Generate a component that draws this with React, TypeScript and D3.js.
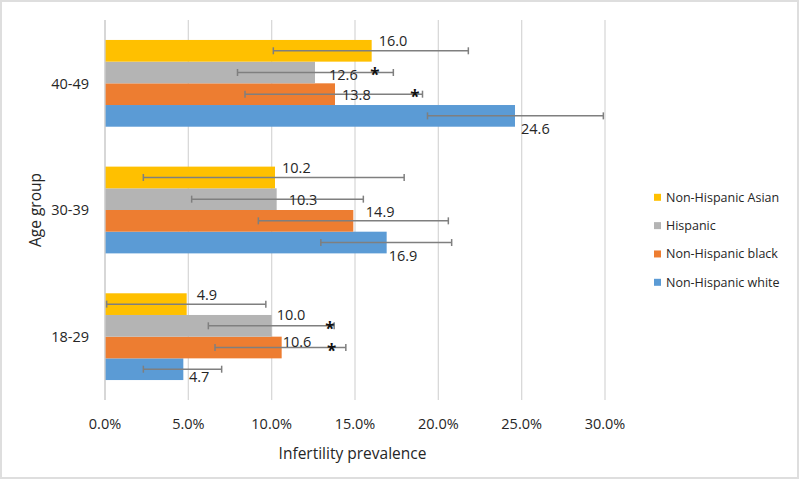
import React from "react";
import * as d3 from "d3";

const ageGroups = ["18-29", "30-39", "40-49"];
const seriesNames = ["Non-Hispanic white", "Non-Hispanic black", "Hispanic", "Non-Hispanic Asian"];
const seriesColors = ["#5B9BD5", "#ED7D31", "#B4B4B4", "#FFC000"];

const whiteValues = [4.7, 16.9, 24.6];
const whiteLower = [2.3, 12.95, 19.35];
const whiteUpper = [7.0, 20.8, 29.9];

const blackValues = [10.6, 14.9, 13.8];
const blackLower = [6.6, 9.2, 8.4];
const blackUpper = [14.45, 20.6, 19.05];

const hispanicValues = [10.0, 10.3, 12.6];
const hispanicLower = [6.2, 5.2, 7.95];
const hispanicUpper = [13.75, 15.5, 17.3];

const asianValues = [4.9, 10.2, 16.0];
const asianLower = [0.1, 2.3, 10.1];
const asianUpper = [9.65, 17.95, 21.8];

// significance markers: [series index, age group index, x value]
const asterisks: [number, number, number][] = [
  [2, 2, 16.2],
  [1, 2, 18.6],
  [2, 0, 13.5],
  [1, 0, 13.6],
];

const xTicks = [0, 5, 10, 15, 20, 25, 30];

// label placement offsets (px) per series, per age group
const labelDx = [
  [5.6, 2, 6],
  [1, 12.5, 7],
  [5, 12, 14],
  [10, 7, 7],
];
const labelDy = [
  [8, 13, 13],
  [-6, -9, 1],
  [-11, 1, 2],
  [-9, -10, -10],
];

const values = [whiteValues, blackValues, hispanicValues, asianValues];
const lowers = [whiteLower, blackLower, hispanicLower, asianLower];
const uppers = [whiteUpper, blackUpper, hispanicUpper, asianUpper];

const W = 800;
const H = 481;
const FONT = "'Open Sans', sans-serif";
const TEXT = "#262626";

export default function App() {
  const x = d3.scaleLinear().domain([0, 30]).range([105, 605]);
  const yGroup = d3
    .scaleBand<string>()
    .domain([...ageGroups].reverse())
    .range([20, 400])
    .padding(0);
  const ySeries = d3
    .scaleBand<string>()
    .domain([...seriesNames].reverse())
    .range([0, yGroup.bandwidth()])
    .paddingInner(0)
    .paddingOuter(0.92);
  const bw = ySeries.bandwidth();

  const legendOrder = [3, 2, 1, 0];
  const legendY = d3.scalePoint<number>().domain(legendOrder).range([197.3, 282.3]);

  return (
    <svg
      width={W}
      height={H}
      style={{ position: "absolute", left: 0, top: 0, background: "#fff" }}
      fontFamily={FONT}
    >
      <rect x={1} y={1} width={W - 3} height={H - 4} fill="#fff" stroke="#dedede" strokeWidth={2} />
      {/* gridlines */}
      {xTicks.map((t) => (
        <line key={t} x1={x(t)} x2={x(t)} y1={20} y2={400} stroke="#d9d9d9" strokeWidth={1.3} />
      ))}
      {/* bars */}
      {seriesNames.map((s, si) =>
        ageGroups.map((g, gi) => {
          const y0 = (yGroup(g) as number) + (ySeries(s) as number);
          return (
            <rect
              key={s + g}
              x={x(0)}
              y={y0}
              width={x(values[si][gi]) - x(0)}
              height={bw}
              fill={seriesColors[si]}
            />
          );
        })
      )}
      {/* axis line */}
      <line x1={x(0)} x2={x(0)} y1={20} y2={400} stroke="#d0d0d0" strokeWidth={1.3} />
      {/* error bars */}
      {seriesNames.map((s, si) =>
        ageGroups.map((g, gi) => {
          const yc = (yGroup(g) as number) + (ySeries(s) as number) + bw / 2;
          const xl = x(lowers[si][gi]);
          const xu = x(uppers[si][gi]);
          return (
            <g key={"e" + s + g} stroke="#7f7f7f" strokeWidth={1.5}>
              <line x1={xl} x2={xu} y1={yc} y2={yc} />
              <line x1={xl} x2={xl} y1={yc - 3.5} y2={yc + 3.5} />
              <line x1={xu} x2={xu} y1={yc - 3.5} y2={yc + 3.5} />
            </g>
          );
        })
      )}
      {/* data labels */}
      {seriesNames.map((s, si) =>
        ageGroups.map((g, gi) => {
          const yc = (yGroup(g) as number) + (ySeries(s) as number) + bw / 2;
          return (
            <text
              key={"l" + s + g}
              x={x(values[si][gi]) + labelDx[si][gi]}
              y={yc + labelDy[si][gi]}
              dy="0.36em"
              fontSize={14.5}
              fill={TEXT}
            >
              {values[si][gi].toFixed(1)}
            </text>
          );
        })
      )}
      {/* asterisks */}
      {asterisks.map(([si, gi, v], i) => {
        const yc = (yGroup(ageGroups[gi]) as number) + (ySeries(seriesNames[si]) as number) + bw / 2;
        return (
          <text
            key={"a" + i}
            x={x(v)}
            y={yc + 9}
            textAnchor="middle"
            fontSize={17}
            fontWeight="bold"
            fill="#111"
          >
            *
          </text>
        );
      })}
      {/* category labels */}
      {ageGroups.map((g) => (
        <text
          key={"c" + g}
          x={89}
          y={(yGroup(g) as number) + yGroup.bandwidth() / 2}
          dy="0.36em"
          textAnchor="end"
          fontSize={14.5}
          fill={TEXT}
        >
          {g}
        </text>
      ))}
      {/* x tick labels */}
      {xTicks.map((t) => (
        <text key={"t" + t} x={x(t)} y={424} dy="0.36em" textAnchor="middle" fontSize={14.5} fill={TEXT}>
          {t.toFixed(1) + "%"}
        </text>
      ))}
      {/* axis titles */}
      <text x={352.5} y={453} dy="0.36em" textAnchor="middle" fontSize={15.5} fill={TEXT}>
        Infertility prevalence
      </text>
      <text
        transform="translate(35,210) rotate(-90)"
        dy="0.36em"
        textAnchor="middle"
        fontSize={15.5}
        fill={TEXT}
      >
        Age group
      </text>
      {/* legend */}
      {legendOrder.map((si) => (
        <g key={"lg" + si}>
          <rect x={654} y={(legendY(si) as number) - 3.5} width={7} height={7} fill={seriesColors[si]} />
          <text x={666} y={legendY(si) as number} dy="0.36em" fontSize={12.5} fill={TEXT}>
            {seriesNames[si]}
          </text>
        </g>
      ))}
    </svg>
  );
}
